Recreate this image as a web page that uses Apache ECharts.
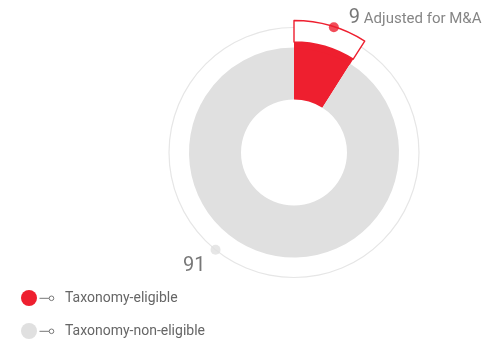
<!DOCTYPE html>
<html>
<head>
<meta charset="utf-8">
<script src="https://cdn.jsdelivr.net/npm/echarts@6/dist/echarts.min.js"></script>
<style>
  html, body { margin: 0; padding: 0; background: #fff; }
  #chart { width: 501px; height: 344px; }
</style>
</head>
<body>
<div id="chart"></div>
<script>
// Share of revenue by EU taxonomy status (%)
const categories = ['Taxonomy-eligible', 'Taxonomy-non-eligible'];
const shares = [9, 91];
const valueLabels = ['9', '91'];
const eligibleNote = 'Adjusted for M&A';
// where each value's marker dot sits along the outer ring (percent of a full turn)
const markerAngles = [4.9, 60.8];

const RED = '#ee1f2f';
const GREY = '#e0e0e0';
const RING = '#e6e6e6';
const TEXT = '#666';
const FONT = 'Roboto, "Noto Sans", sans-serif';

const CENTER = [294, 152.5];
const R_INNER = 53, R_OUTER = 105, R_RED = 110.5, R_RING = 125, R_FRAME = 132;

const chart = echarts.init(document.getElementById('chart'), null, { renderer: 'canvas' });

const basePie = {
  type: 'pie',
  center: CENTER,
  startAngle: 90,
  clockwise: true,
  silent: true,
  animation: false,
  label: { show: false },
  labelLine: { show: false },
  emphasis: { disabled: true }
};

const hidden = { color: 'rgba(0,0,0,0)', borderWidth: 0 };

option = {
  animation: false,
  legend: {
    orient: 'vertical',
    left: 21,
    top: 290,
    padding: 0,
    itemWidth: 16,
    itemHeight: 16,
    itemGap: 17,
    icon: 'circle',
    selectedMode: false,
    textStyle: { fontSize: 14, color: TEXT, fontFamily: FONT, padding: [0, 0, 0, 23] },
    data: categories.map((name, i) => ({
      name,
      itemStyle: { color: i === 0 ? RED : GREY, borderWidth: 0 }
    }))
  },
  polar: { center: CENTER, radius: 140 },
  angleAxis: { type: 'value', min: 0, max: 100, startAngle: 90, clockwise: true, show: false },
  radiusAxis: { type: 'value', min: 0, max: 140, show: false },
  graphic: categories.map((name, i) => ({
    type: 'group',
    left: 37,
    top: 295.5 + i * 33,
    silent: true,
    children: [
      { type: 'line', shape: { x1: 0, y1: 2.5, x2: 9.5, y2: 2.5 }, style: { stroke: '#777', lineWidth: 1 } },
      { type: 'circle', shape: { cx: 12, cy: 2.5, r: 2.3 }, style: { fill: '#fff', stroke: '#777', lineWidth: 1 } }
    ]
  })),
  series: [
    // thin outer guide ring
    Object.assign({}, basePie, {
      radius: [R_RING - 0.6, R_RING + 0.6],
      data: [{ value: 1, name: 'ring', itemStyle: { color: RING } }]
    }),
    // main donut
    Object.assign({}, basePie, {
      radius: [R_INNER, R_OUTER],
      data: categories.map((name, i) => ({
        name, value: shares[i],
        itemStyle: { color: i === 0 ? RED : GREY }
      }))
    }),
    // eligible slice extends a little beyond the donut
    Object.assign({}, basePie, {
      radius: [R_OUTER - 1, R_RED],
      data: categories.map((name, i) => ({
        name, value: shares[i],
        itemStyle: i === 0 ? { color: RED } : hidden
      }))
    }),
    // outlined frame for the adjusted eligible share
    Object.assign({}, basePie, {
      radius: [R_RED, R_FRAME],
      data: categories.map((name, i) => ({
        name, value: shares[i],
        itemStyle: i === 0 ? { color: '#fff', borderColor: RED, borderWidth: 1.4 } : hidden
      }))
    }),
    // marker dots with value labels
    {
      type: 'scatter',
      coordinateSystem: 'polar',
      silent: true,
      symbol: 'circle',
      symbolSize: 10,
      z: 5,
      data: [
        {
          value: [R_FRAME - 0.5, markerAngles[0]],
          itemStyle: { color: RED },
          label: {
            show: true,
            position: 'right',
            distance: 10,
            offset: [0, -10],
            formatter: '{v|' + valueLabels[0] + '}{n| ' + eligibleNote + '}',
            rich: {
              v: { fontSize: 20, color: '#555', fontFamily: FONT, verticalAlign: 'bottom', lineHeight: 22 },
              n: { fontSize: 15, color: TEXT, fontFamily: FONT, verticalAlign: 'bottom', lineHeight: 22, padding: [0, 0, 1, 0] }
            }
          }
        },
        {
          value: [R_RING, markerAngles[1]],
          itemStyle: { color: GREY },
          label: {
            show: true,
            position: 'left',
            distance: 5,
            offset: [0, 16],
            formatter: valueLabels[1],
            fontSize: 20,
            color: '#555',
            fontFamily: FONT
          }
        }
      ]
    }
  ]
};

chart.setOption(option);
</script>
</body>
</html>
